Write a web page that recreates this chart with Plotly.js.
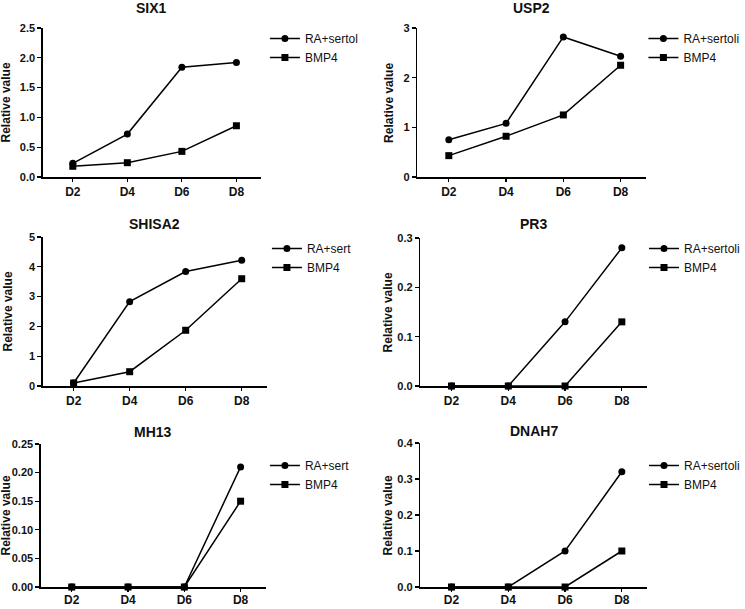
<!DOCTYPE html>
<html>
<head>
<meta charset="utf-8">
<script src="https://cdn.plot.ly/plotly-3.0.1.min.js"></script>
<style>
  body { margin: 0; background: #fff; }
  #chart { width: 745px; height: 609px; }
</style>
</head>
<body>
<div id="chart"></div>
<script>
// days on the x axis, same for every panel
const days = ['D2', 'D4', 'D6', 'D8'];
const genes = ['SIX1', 'USP2', 'SHISA2', 'PR3', 'MH13', 'DNAH7'];

// legend text as it shows in the figure (clipped in some panels)
const raLabels = ['RA+sertol', 'RA+sertoli', 'RA+sert', 'RA+sertoli', 'RA+sert', 'RA+sertoli'];
const bmpLabel = 'BMP4';

// relative values
const six1RA     = [0.23, 0.72, 1.84, 1.92];
const six1BMP4   = [0.18, 0.24, 0.43, 0.86];
const usp2RA     = [0.75, 1.08, 2.82, 2.43];
const usp2BMP4   = [0.43, 0.82, 1.25, 2.25];
const shisa2RA   = [0.10, 2.83, 3.84, 4.22];
const shisa2BMP4 = [0.10, 0.48, 1.87, 3.60];
const pr3RA      = [0, 0, 0.13, 0.28];
const pr3BMP4    = [0, 0, 0, 0.13];
const mh13RA     = [0, 0, 0, 0.21];
const mh13BMP4   = [0, 0, 0, 0.15];
const dnah7RA    = [0, 0, 0.10, 0.32];
const dnah7BMP4  = [0, 0, 0, 0.10];

const raSeries  = [six1RA, usp2RA, shisa2RA, pr3RA, mh13RA, dnah7RA];
const bmpSeries = [six1BMP4, usp2BMP4, shisa2BMP4, pr3BMP4, mh13BMP4, dnah7BMP4];

// y axis max / step / format per panel
const yMax    = [2.5, 3, 5, 0.3, 0.25, 0.4];
const yStep   = [0.5, 1, 1, 0.1, 0.05, 0.1];
const yFormat = ['.1f', 'd', 'd', '.1f', '.2f', '.1f'];

// panel boxes in pixels: [left, right, top, bottom]
const W = 745, H = 609;
const boxes = [
  [43, 262, 28, 177],
  [419, 649, 28, 177],
  [43, 268, 237, 386],
  [422, 650, 238, 386],
  [41, 267, 444, 587],
  [422, 650, 443, 587]
];
const legendPos = [[266, 24], [646, 24], [268, 234], [647, 234], [266, 451], [647, 451]];
const titleY    = [8, 8, 224, 224, 432, 431];
const yTitleX   = [7, 391, 8, 390, 6, 390];

const FONT = 'Liberation Sans, Arial, sans-serif';
const data = [];
const layout = {
  width: W, height: H,
  margin: {l: 0, r: 0, t: 0, b: 0},
  paper_bgcolor: '#fff', plot_bgcolor: '#fff',
  font: {family: FONT, color: '#111'},
  annotations: []
};

for (let i = 0; i < genes.length; i++) {
  const n = i + 1;
  const xa = 'x' + (n > 1 ? n : '');
  const ya = 'y' + (n > 1 ? n : '');
  const lg = 'legend' + (n > 1 ? n : '');
  const b = boxes[i];

  data.push({
    x: days, y: raSeries[i], name: raLabels[i],
    type: 'scatter', mode: 'lines+markers',
    xaxis: xa, yaxis: ya, legend: lg, cliponaxis: false,
    line: {color: '#000', width: 1.5},
    marker: {symbol: 'circle', size: 7, color: '#000'}
  });
  data.push({
    x: days, y: bmpSeries[i], name: bmpLabel,
    type: 'scatter', mode: 'lines+markers',
    xaxis: xa, yaxis: ya, legend: lg, cliponaxis: false,
    line: {color: '#000', width: 1.5},
    marker: {symbol: 'square', size: 7, color: '#000'}
  });

  layout['xaxis' + (n > 1 ? n : '')] = {
    domain: [b[0] / W, b[1] / W],
    anchor: ya,
    type: 'category',
    range: [-0.55, 3.45],
    showgrid: false, zeroline: false,
    showline: true, linecolor: '#000', linewidth: 1.5,
    ticks: 'outside', ticklen: 3, tickwidth: 1.2, tickcolor: '#000',
    ticklabelstandoff: i >= 4 ? -2 : 0,
    tickfont: {family: FONT, size: 12, color: '#111', weight: 'bold'},
    fixedrange: true
  };
  layout['yaxis' + (n > 1 ? n : '')] = {
    domain: [1 - b[3] / H, 1 - b[2] / H],
    anchor: xa,
    range: [0, yMax[i]],
    dtick: yStep[i], tick0: 0,
    tickformat: yFormat[i],
    showgrid: false, zeroline: false,
    showline: true, linecolor: '#000', linewidth: 1.5,
    ticks: 'outside', ticklen: 4, tickwidth: 1.2, tickcolor: '#000',
    tickfont: {family: FONT, size: 11, color: '#111', weight: 'bold'},
    fixedrange: true
  };
  layout[lg] = {
    x: legendPos[i][0] / W, y: 1 - legendPos[i][1] / H,
    xanchor: 'left', yanchor: 'top',
    bgcolor: 'rgba(0,0,0,0)',
    font: {family: FONT, size: 12, color: '#111'},
    itemwidth: 30, tracegroupgap: 0
  };

  // panel title
  layout.annotations.push({
    text: genes[i], xref: 'paper', yref: 'paper',
    x: (b[0] + b[1]) / 2 / W, y: 1 - titleY[i] / H,
    xanchor: 'center', yanchor: 'middle', showarrow: false,
    font: {family: FONT, size: 14, color: '#111', weight: 'bold'}
  });
  // y axis title
  layout.annotations.push({
    text: 'Relative value', xref: 'paper', yref: 'paper',
    x: yTitleX[i] / W, y: 1 - (b[2] + b[3]) / 2 / H,
    xanchor: 'center', yanchor: 'middle', textangle: -90, showarrow: false,
    font: {family: FONT, size: 12, color: '#111', weight: 'bold'}
  });
}

Plotly.newPlot('chart', data, layout, {displayModeBar: false, staticPlot: true});
</script>
</body>
</html>
